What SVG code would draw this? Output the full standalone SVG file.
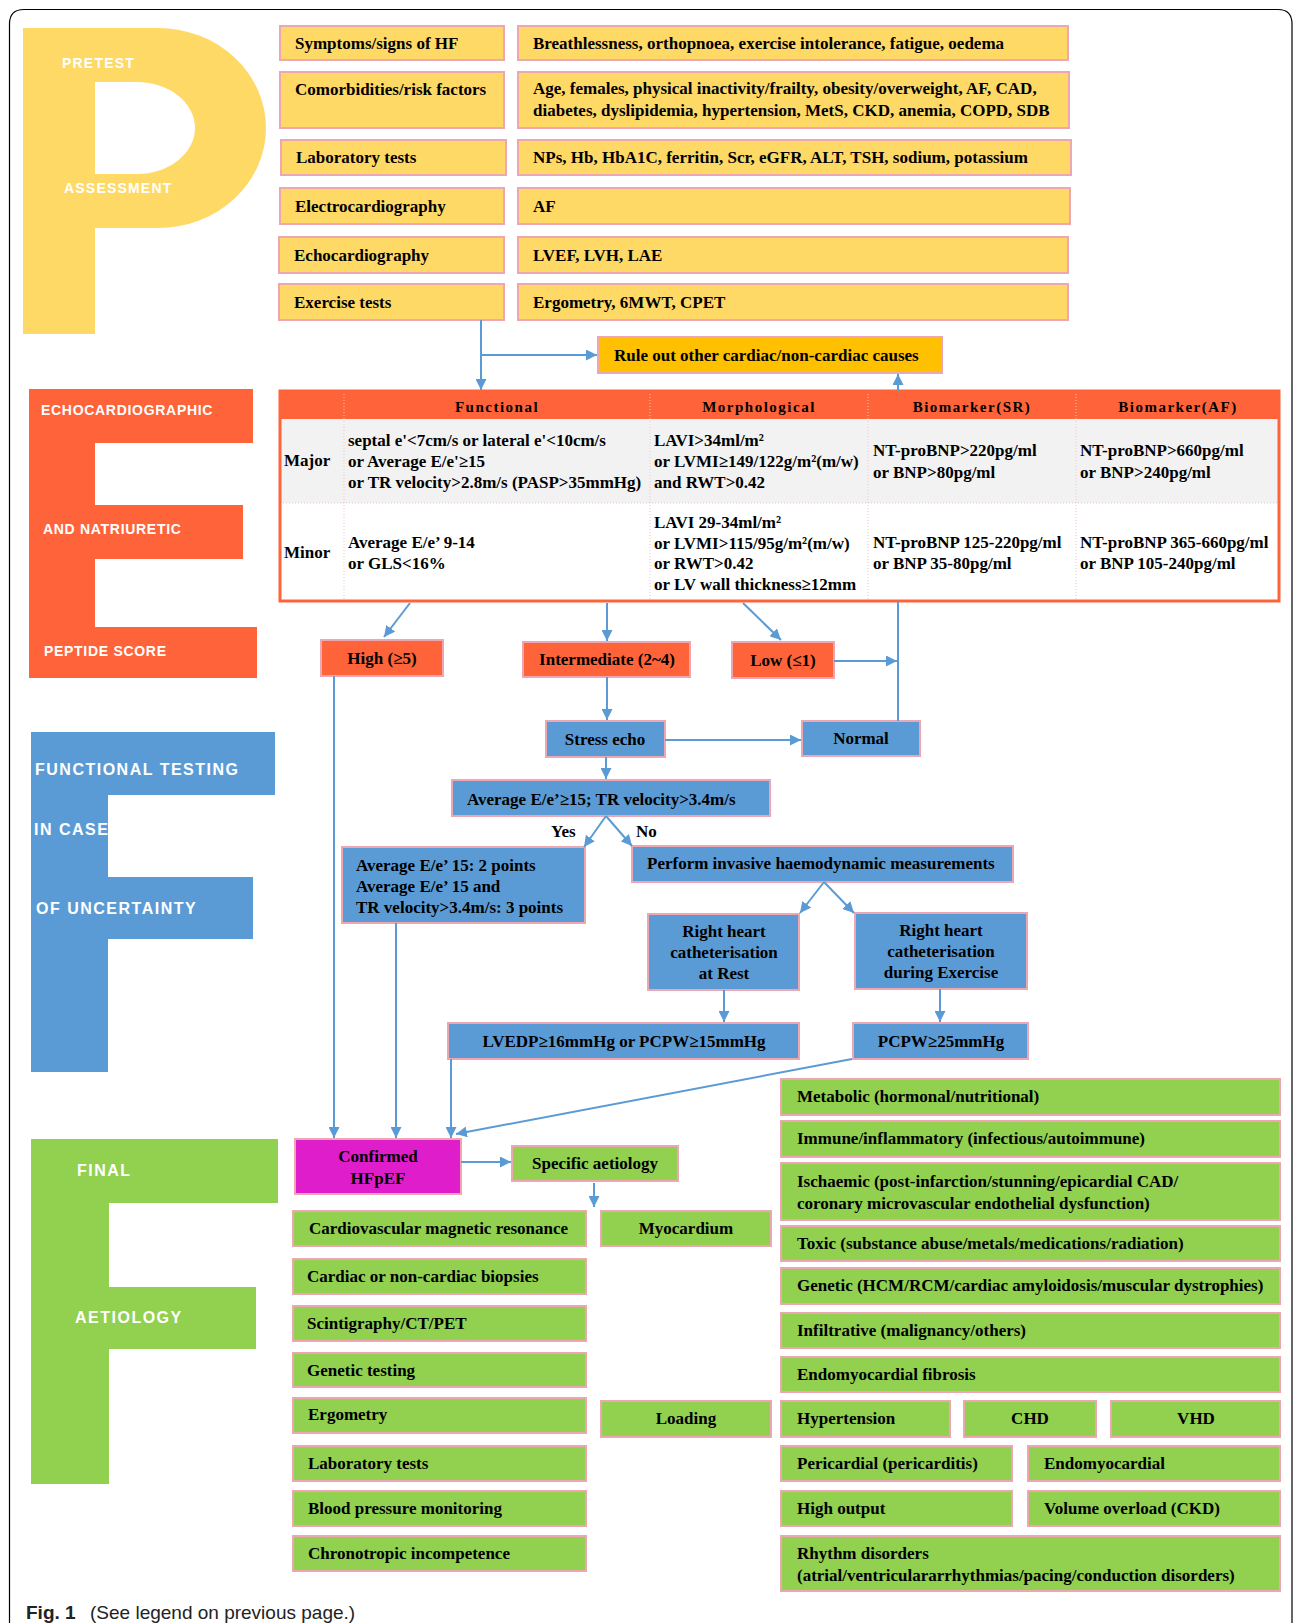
<svg xmlns="http://www.w3.org/2000/svg" width="1295" height="1623" viewBox="0 0 1295 1623">
<style>
.t{font-family:"Liberation Serif","Times New Roman",serif;font-weight:bold;font-size:17px;fill:#000}
.c{text-anchor:middle}
.h{font-size:15px;letter-spacing:1.5px}
.lbl{font-family:"Liberation Sans",Arial,sans-serif;font-weight:bold;fill:#fff;font-size:14px;letter-spacing:1.2px}
.e{letter-spacing:0.7px}
.big{font-size:16px;letter-spacing:1.5px}
.y{fill:#FFD966;stroke:#EDA7B3;stroke-width:2}
.ro{fill:#FFC000;stroke:#EDA7B3;stroke-width:2}
.o{fill:#FF6339;stroke:#EDA7B3;stroke-width:2}
.b{fill:#5B9BD5;stroke:#EDA7B3;stroke-width:2}
.g{fill:#92D050;stroke:#EDA7B3;stroke-width:2}
.m{fill:#E01DCB;stroke:#EDA7B3;stroke-width:2}
.conn path{stroke:#5B9BD5;stroke-width:2;fill:none;marker-end:url(#ah)}
.dot{stroke:#F2C4C4;stroke-width:1;stroke-dasharray:1 2;fill:none}
.cap{font-family:"Liberation Sans",Arial,sans-serif;font-size:19px;fill:#222}
</style>
<defs>
<marker id="ah" viewBox="0 0 10 10" refX="10" refY="5" markerWidth="11" markerHeight="11" markerUnits="userSpaceOnUse" orient="auto">
<path d="M0,0 L10,5 L0,10 z" fill="#5B9BD5"/>
</marker>
</defs>
<rect width="1295" height="1623" fill="#fff"/>
<path d="M9.5,1623 V24 Q9.5,9.5 24,9.5 H1278 Q1292,9.5 1292,24 V1623" fill="none" stroke="#000" stroke-width="1.2"/>

<!-- Big letters -->
<g id="letter-P">
<path d="M23,28 H158 A108,100 0 0 1 158,228 H95 V334 H23 Z M95,82 H137 A58,46 0 0 1 137,174 H95 Z" fill="#FFD966" fill-rule="evenodd"/>
<text class="lbl" x="62" y="68">PRETEST</text>
<text class="lbl" x="64" y="193">ASSESSMENT</text>
</g>
<g id="letter-E">
<path d="M29,389 H253 V443 H95 V505 H243 V559 H95 V627 H257 V678 H29 Z" fill="#FF6339"/>
<text class="lbl e" x="41" y="415">ECHOCARDIOGRAPHIC</text>
<text class="lbl e" x="43" y="534">AND NATRIURETIC</text>
<text class="lbl e" x="44" y="656">PEPTIDE SCORE</text>
</g>
<g id="letter-F1">
<path d="M31,732 H275 V795 H108 V877 H253 V939 H108 V1072 H31 Z" fill="#5B9BD5"/>
<text class="lbl big" x="35" y="775">FUNCTIONAL TESTING</text>
<text class="lbl big" x="34" y="835">IN CASE</text>
<text class="lbl big" x="36" y="914">OF UNCERTAINTY</text>
</g>
<g id="letter-F2">
<path d="M31,1139 H278 V1203 H109 V1287 H256 V1349 H109 V1484 H31 Z" fill="#92D050"/>
<text class="lbl big" x="77" y="1176">FINAL</text>
<text class="lbl big" x="75" y="1323">AETIOLOGY</text>
</g>

<!-- Pretest rows -->
<g id="symptoms"><rect class="y" x="280" y="26" width="224" height="34"/><text class="t" x="295" y="49">Symptoms/signs of HF</text></g>
<g id="symptoms-list"><rect class="y" x="518" y="26" width="550" height="34"/><text class="t" x="533" y="49">Breathlessness, orthopnoea, exercise intolerance, fatigue, oedema</text></g>
<g id="comorbidities"><rect class="y" x="280" y="72" width="224" height="56"/><text class="t" x="295" y="95">Comorbidities/risk factors</text></g>
<g id="comorbidities-list"><rect class="y" x="518" y="72" width="551" height="56"/><text class="t" x="533" y="94">Age, females, physical inactivity/frailty, obesity/overweight, AF, CAD,</text><text class="t" x="533" y="116">diabetes, dyslipidemia, hypertension, MetS, CKD, anemia, COPD, SDB</text></g>
<g id="lab"><rect class="y" x="281" y="140" width="225" height="35"/><text class="t" x="296" y="163">Laboratory tests</text></g>
<g id="lab-list"><rect class="y" x="518" y="140" width="553" height="35"/><text class="t" x="533" y="163">NPs, Hb, HbA1C, ferritin, Scr, eGFR, ALT, TSH, sodium, potassium</text></g>
<g id="ecg"><rect class="y" x="280" y="188" width="224" height="36"/><text class="t" x="295" y="212">Electrocardiography</text></g>
<g id="ecg-list"><rect class="y" x="518" y="188" width="552" height="36"/><text class="t" x="533" y="212">AF</text></g>
<g id="echo"><rect class="y" x="279" y="237" width="225" height="36"/><text class="t" x="294" y="261">Echocardiography</text></g>
<g id="echo-list"><rect class="y" x="518" y="237" width="550" height="36"/><text class="t" x="533" y="261">LVEF, LVH, LAE</text></g>
<g id="exercise"><rect class="y" x="279" y="284" width="225" height="36"/><text class="t" x="294" y="308">Exercise tests</text></g>
<g id="exercise-list"><rect class="y" x="518" y="284" width="550" height="36"/><text class="t" x="533" y="308">Ergometry, 6MWT, CPET</text></g>
<g id="rule-out"><rect class="ro" x="598" y="337" width="344" height="36"/><text class="t" x="614" y="361">Rule out other cardiac/non-cardiac causes</text></g>

<!-- Score table -->
<g id="score-table">
<rect x="280" y="419" width="999" height="84" fill="#F2F2F2"/>
<rect x="280" y="503" width="999" height="98" fill="#fff"/>
<rect x="280" y="391" width="999" height="28" fill="#FF6339"/>
<path class="dot" d="M344,391 V601 M650,391 V601 M868,391 V601 M1076,391 V601 M280,503 H1279"/>
<rect x="280" y="391" width="999" height="210" fill="none" stroke="#FF6339" stroke-width="3"/>
<text class="t h c" x="497" y="412">Functional</text>
<text class="t h c" x="759" y="412">Morphological</text>
<text class="t h c" x="972" y="412">Biomarker(SR)</text>
<text class="t h c" x="1178" y="412">Biomarker(AF)</text>
<text class="t" x="284" y="466">Major</text>
<text class="t" x="348" y="446">septal e'&lt;7cm/s or lateral e'&lt;10cm/s</text>
<text class="t" x="348" y="467">or Average E/e'≥15</text>
<text class="t" x="348" y="488">or TR velocity&gt;2.8m/s (PASP&gt;35mmHg)</text>
<text class="t" x="654" y="446">LAVI&gt;34ml/m²</text>
<text class="t" x="654" y="467">or LVMI≥149/122g/m²(m/w)</text>
<text class="t" x="654" y="488">and RWT&gt;0.42</text>
<text class="t" x="873" y="456">NT-proBNP&gt;220pg/ml</text>
<text class="t" x="873" y="478">or BNP&gt;80pg/ml</text>
<text class="t" x="1080" y="456">NT-proBNP&gt;660pg/ml</text>
<text class="t" x="1080" y="478">or BNP&gt;240pg/ml</text>
<text class="t" x="284" y="558">Minor</text>
<text class="t" x="348" y="548">Average E/e’ 9-14</text>
<text class="t" x="348" y="569">or GLS&lt;16%</text>
<text class="t" x="654" y="528">LAVI 29-34ml/m²</text>
<text class="t" x="654" y="549">or LVMI&gt;115/95g/m²(m/w)</text>
<text class="t" x="654" y="569">or RWT&gt;0.42</text>
<text class="t" x="654" y="590">or LV wall thickness≥12mm</text>
<text class="t" x="873" y="548">NT-proBNP 125-220pg/ml</text>
<text class="t" x="873" y="569">or BNP 35-80pg/ml</text>
<text class="t" x="1080" y="548">NT-proBNP 365-660pg/ml</text>
<text class="t" x="1080" y="569">or BNP 105-240pg/ml</text>
</g>

<!-- Score outcomes -->
<g id="high"><rect class="o" x="321" y="640" width="122" height="36"/><text class="t c" x="382" y="664">High (≥5)</text></g>
<g id="intermediate"><rect class="o" x="523" y="642" width="167" height="35"/><text class="t c" x="607" y="665">Intermediate (2~4)</text></g>
<g id="low"><rect class="o" x="732" y="642" width="102" height="36"/><text class="t c" x="783" y="666">Low (≤1)</text></g>

<!-- Functional testing -->
<g id="stress-echo"><rect class="b" x="546" y="721" width="119" height="36"/><text class="t c" x="605" y="745">Stress echo</text></g>
<g id="normal"><rect class="b" x="802" y="721" width="118" height="35"/><text class="t c" x="861" y="744">Normal</text></g>
<g id="avg-ee"><rect class="b" x="452" y="780" width="318" height="36"/><text class="t" x="467" y="805">Average E/e’≥15; TR velocity&gt;3.4m/s</text></g>
<text class="t" x="551" y="837">Yes</text>
<text class="t" x="636" y="837">No</text>
<g id="points"><rect class="b" x="342" y="847" width="243" height="76"/><text class="t" x="356" y="871">Average E/e’ 15: 2 points</text><text class="t" x="356" y="892">Average E/e’ 15 and</text><text class="t" x="356" y="913">TR velocity&gt;3.4m/s: 3 points</text></g>
<g id="invasive"><rect class="b" x="632" y="846" width="381" height="36"/><text class="t" x="647" y="869">Perform invasive haemodynamic measurements</text></g>
<g id="rhc-rest"><rect class="b" x="648" y="914" width="151" height="76"/><text class="t c" x="724" y="937">Right heart</text><text class="t c" x="724" y="958">catheterisation</text><text class="t c" x="724" y="979">at Rest</text></g>
<g id="rhc-exercise"><rect class="b" x="855" y="913" width="172" height="76"/><text class="t c" x="941" y="936">Right heart</text><text class="t c" x="941" y="957">catheterisation</text><text class="t c" x="941" y="978">during Exercise</text></g>
<g id="lvedp"><rect class="b" x="448" y="1023" width="351" height="36"/><text class="t c" x="624" y="1047">LVEDP≥16mmHg or PCPW≥15mmHg</text></g>
<g id="pcpw"><rect class="b" x="853" y="1023" width="175" height="36"/><text class="t c" x="941" y="1047">PCPW≥25mmHg</text></g>

<!-- Final aetiology -->
<g id="confirmed"><rect class="m" x="295" y="1139" width="166" height="55"/><text class="t c" x="378" y="1162">Confirmed</text><text class="t c" x="378" y="1184">HFpEF</text></g>
<g id="specific"><rect class="g" x="512" y="1146" width="166" height="35"/><text class="t c" x="595" y="1169">Specific aetiology</text></g>
<g id="cmr"><rect class="g" x="293" y="1211" width="293" height="35"/><text class="t" x="309" y="1234">Cardiovascular magnetic resonance</text></g>
<g id="myocardium"><rect class="g" x="601" y="1211" width="170" height="35"/><text class="t c" x="686" y="1234">Myocardium</text></g>
<g id="biopsies"><rect class="g" x="293" y="1259" width="293" height="35"/><text class="t" x="307" y="1282">Cardiac or non-cardiac biopsies</text></g>
<g id="scinti"><rect class="g" x="293" y="1306" width="293" height="35"/><text class="t" x="307" y="1329">Scintigraphy/CT/PET</text></g>
<g id="genetic-testing"><rect class="g" x="293" y="1353" width="293" height="34"/><text class="t" x="307" y="1376">Genetic testing</text></g>
<g id="ergometry"><rect class="g" x="293" y="1398" width="293" height="35"/><text class="t" x="308" y="1420">Ergometry</text></g>
<g id="lab-tests"><rect class="g" x="293" y="1446" width="293" height="35"/><text class="t" x="308" y="1469">Laboratory tests</text></g>
<g id="bp"><rect class="g" x="293" y="1491" width="293" height="35"/><text class="t" x="308" y="1514">Blood pressure monitoring</text></g>
<g id="chrono"><rect class="g" x="293" y="1536" width="293" height="35"/><text class="t" x="308" y="1559">Chronotropic incompetence</text></g>
<g id="loading"><rect class="g" x="601" y="1401" width="170" height="36"/><text class="t c" x="686" y="1424">Loading</text></g>

<g id="metabolic"><rect class="g" x="781" y="1079" width="499" height="36"/><text class="t" x="797" y="1102">Metabolic (hormonal/nutritional)</text></g>
<g id="immune"><rect class="g" x="781" y="1121" width="499" height="36"/><text class="t" x="797" y="1144">Immune/inflammatory (infectious/autoimmune)</text></g>
<g id="ischaemic"><rect class="g" x="781" y="1163" width="499" height="57"/><text class="t" x="797" y="1187">Ischaemic (post-infarction/stunning/epicardial CAD/</text><text class="t" x="797" y="1209">coronary microvascular endothelial dysfunction)</text></g>
<g id="toxic"><rect class="g" x="781" y="1226" width="499" height="35"/><text class="t" x="797" y="1249">Toxic (substance abuse/metals/medications/radiation)</text></g>
<g id="genetic"><rect class="g" x="781" y="1268" width="499" height="36"/><text class="t" x="797" y="1291">Genetic (HCM/RCM/cardiac amyloidosis/muscular dystrophies)</text></g>
<g id="infiltrative"><rect class="g" x="781" y="1313" width="499" height="35"/><text class="t" x="797" y="1336">Infiltrative (malignancy/others)</text></g>
<g id="emf"><rect class="g" x="781" y="1357" width="499" height="35"/><text class="t" x="797" y="1380">Endomyocardial fibrosis</text></g>
<g id="hypertension"><rect class="g" x="781" y="1401" width="169" height="36"/><text class="t" x="797" y="1424">Hypertension</text></g>
<g id="chd"><rect class="g" x="964" y="1401" width="132" height="36"/><text class="t c" x="1030" y="1424">CHD</text></g>
<g id="vhd"><rect class="g" x="1111" y="1401" width="169" height="36"/><text class="t c" x="1196" y="1424">VHD</text></g>
<g id="pericardial"><rect class="g" x="781" y="1446" width="231" height="35"/><text class="t" x="797" y="1469">Pericardial (pericarditis)</text></g>
<g id="endomyocardial"><rect class="g" x="1028" y="1446" width="252" height="35"/><text class="t" x="1044" y="1469">Endomyocardial</text></g>
<g id="high-output"><rect class="g" x="781" y="1491" width="231" height="35"/><text class="t" x="797" y="1514">High output</text></g>
<g id="volume"><rect class="g" x="1028" y="1491" width="252" height="35"/><text class="t" x="1044" y="1514">Volume overload (CKD)</text></g>
<g id="rhythm"><rect class="g" x="781" y="1536" width="499" height="55"/><text class="t" x="797" y="1559">Rhythm disorders</text><text class="t" x="797" y="1581">(atrial/ventriculararrhythmias/pacing/conduction disorders)</text></g>

<!-- Connectors -->
<g id="connectors" class="conn">
<path d="M481,320 V390"/>
<path d="M481,355 H597"/>
<path d="M898,721 V602 M898,391 V374"/>
<path d="M410,603 L384,637"/>
<path d="M607,603 V641"/>
<path d="M743,603 L781,640"/>
<path d="M834,661 H897"/>
<path d="M607,677 V720"/>
<path d="M665,740 H801"/>
<path d="M606,757 V779"/>
<path d="M606,816 L584,847"/>
<path d="M606,816 L632,846"/>
<path d="M824,882 L800,913"/>
<path d="M824,882 L854,913"/>
<path d="M724,990 V1022"/>
<path d="M940,989 V1022"/>
<path d="M334,676 V1138"/>
<path d="M396,923 V1138"/>
<path d="M451,1059 V1138"/>
<path d="M852,1059 L456,1134"/>
<path d="M461,1162 H511"/>
<path d="M594,1183 V1207"/>
</g>

<text class="cap" x="26" y="1619"><tspan font-weight="bold">Fig. 1</tspan><tspan x="90">(See legend on previous page.)</tspan></text>
</svg>
